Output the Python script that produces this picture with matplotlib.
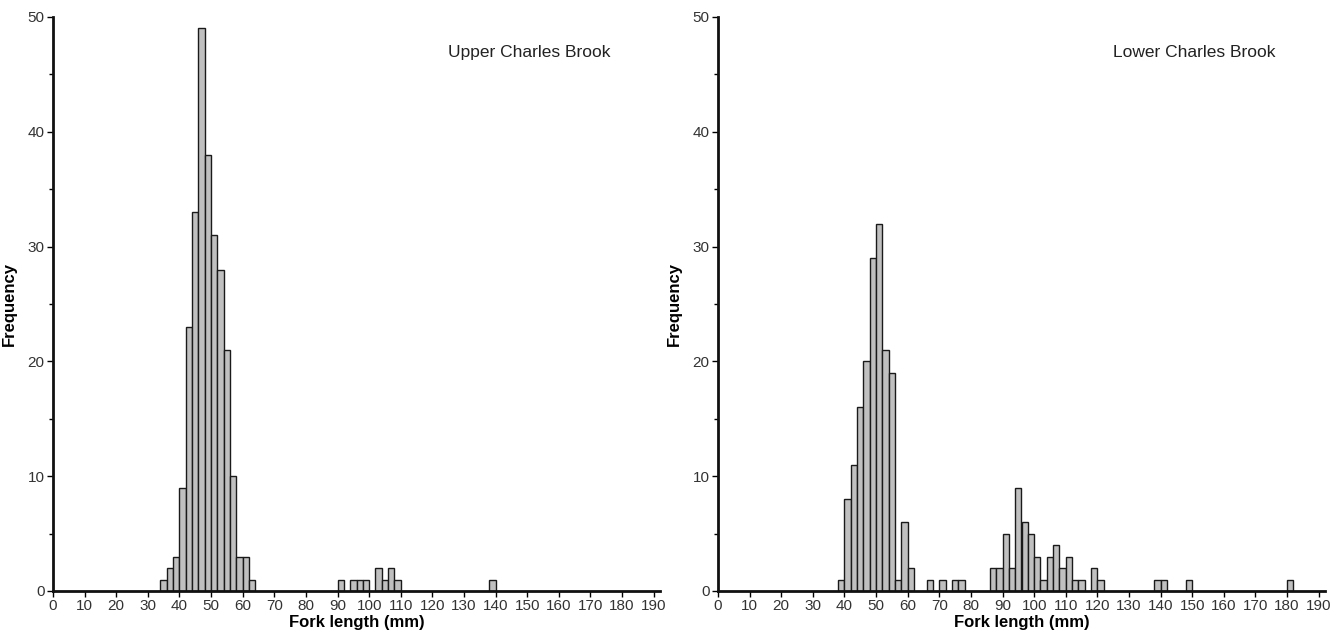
import matplotlib.pyplot as plt
import numpy as np
from matplotlib.ticker import MultipleLocator

plt.rcParams['font.family'] = ['Liberation Sans', 'DejaVu Sans']

# 2 mm bins, left edge of each bin and its count
upper_bins = [34, 36, 38, 40, 42, 44, 46, 48, 50, 52, 54, 56, 58, 60, 62,
              90, 94, 96, 98, 102, 104, 106, 108, 138]
upper_counts = [1, 2, 3, 9, 23, 33, 49, 38, 31, 28, 21, 10, 3, 3, 1,
                1, 1, 1, 1, 2, 1, 2, 1, 1]

lower_bins = [38, 40, 42, 44, 46, 48, 50, 52, 54, 56, 58, 60,
              66, 70, 74, 76,
              86, 88, 90, 92, 94, 96, 98, 100, 102, 104, 106, 108, 110, 112, 114,
              118, 120, 138, 140, 148, 180]
lower_counts = [1, 8, 11, 16, 20, 29, 32, 21, 19, 1, 6, 2,
                1, 1, 1, 1,
                2, 2, 5, 2, 9, 6, 5, 3, 1, 3, 4, 2, 3, 1, 1,
                2, 1, 1, 1, 1, 1]

panels = [("Upper Charles Brook", upper_bins, upper_counts),
          ("Lower Charles Brook", lower_bins, lower_counts)]

fig = plt.figure(figsize=(13.44, 6.35), dpi=100)
lefts = [53 / 1344, 718 / 1344]
for (title, bins, counts), left in zip(panels, lefts):
    ax = fig.add_axes([left, 44 / 635, 607 / 1344, 574 / 635])
    ax.bar(bins, counts, width=2, align='edge', color='#c0c0c0',
           edgecolor='#1a1a1a', linewidth=1.0)
    ax.set_xlim(0, 192)
    ax.set_ylim(0, 50)
    ax.xaxis.set_major_locator(MultipleLocator(10))
    ax.yaxis.set_major_locator(MultipleLocator(10))
    ax.yaxis.set_minor_locator(MultipleLocator(5))
    for s in ['top', 'right']:
        ax.spines[s].set_visible(False)
    for s in ['left', 'bottom']:
        ax.spines[s].set_linewidth(2)
        ax.spines[s].set_color('#111111')
    ax.tick_params(which='major', direction='out', length=4, width=1,
                   labelsize=11, labelcolor='#333333', pad=2)
    ax.tick_params(which='minor', direction='out', length=3, width=1)
    ax.set_xlabel('Fork length (mm)', fontsize=12, fontweight='bold', labelpad=1)
    ax.set_ylabel('Frequency', fontsize=12, fontweight='bold')
    ax.yaxis.set_label_coords(-0.059, 0.5)
    ax.text(0.918, 0.939, title, transform=ax.transAxes, ha='right',
            va='center', fontsize=12.5, color='#222222')

fig.savefig('out.png', dpi=100)
